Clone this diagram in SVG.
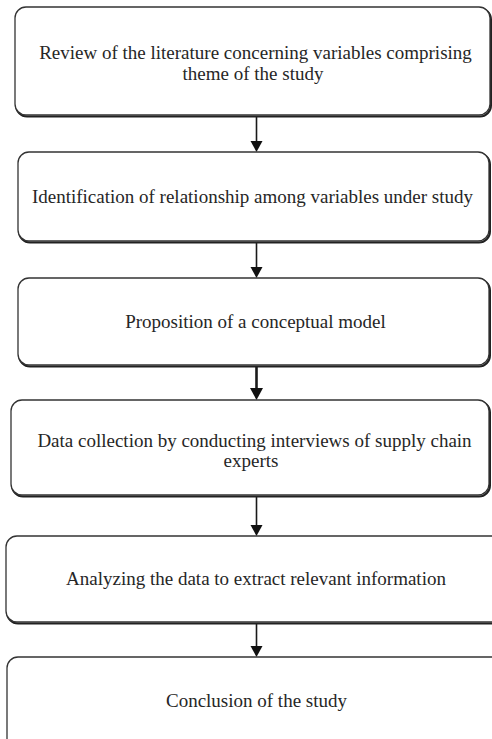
<svg xmlns="http://www.w3.org/2000/svg" width="492" height="739" viewBox="0 0 492 739">
<style>
.box{fill:#ffffff;stroke:#333333;stroke-width:1.3}
.shadow{fill:none;stroke:#222222;stroke-width:2}
.lbl{font-family:"Liberation Serif","Times New Roman",serif;font-size:19px;fill:#262626;text-anchor:middle}
.conn{stroke:#1a1a1a;stroke-width:1.6;fill:none}
.head{fill:#111111}
</style>
<rect width="492" height="739" fill="#ffffff"/>
<g id="connectors">
<line class="conn" x1="256.5" y1="116" x2="256.5" y2="145"/>
<line class="conn" x1="256.5" y1="243" x2="256.5" y2="271"/>
<line class="conn" x1="256.5" y1="367" x2="256.5" y2="393" style="stroke-width:2.6"/>
<line class="conn" x1="256.5" y1="497" x2="256.5" y2="529"/>
<line class="conn" x1="256.5" y1="624" x2="256.5" y2="650"/>
<path class="head" d="M250.5,141 L262.5,141 L256.5,152 Z"/>
<path class="head" d="M250.5,267 L262.5,267 L256.5,278 Z"/>
<path class="head" d="M250,388 L263,388 L256.5,400 Z"/>
<path class="head" d="M250.5,525 L262.5,525 L256.5,536 Z"/>
<path class="head" d="M250.5,646 L262.5,646 L256.5,657 Z"/>
</g>
<g id="node1">
<rect class="shadow" x="16" y="8.5" width="475" height="108" rx="11"/>
<rect class="box" x="15" y="7" width="475" height="108" rx="11"/>
<text class="lbl" x="255.5" y="58.5">Review of the literature concerning variables comprising</text>
<text class="lbl" x="253" y="79.5">theme of the study</text>
</g>
<g id="node2">
<rect class="shadow" x="19" y="153.5" width="471" height="89" rx="11"/>
<rect class="box" x="18" y="152" width="471" height="89" rx="11"/>
<text class="lbl" x="252.5" y="203">Identification of relationship among variables under study</text>
</g>
<g id="node3">
<rect class="shadow" x="19" y="279.5" width="471" height="87" rx="11"/>
<rect class="box" x="18" y="278" width="471" height="87" rx="11"/>
<text class="lbl" x="255.5" y="328">Proposition of a conceptual model</text>
</g>
<g id="node4">
<rect class="shadow" x="12" y="401.5" width="478" height="95" rx="11"/>
<rect class="box" x="11" y="400" width="478" height="95" rx="11"/>
<text class="lbl" x="254.5" y="447">Data collection by conducting interviews of supply chain</text>
<text class="lbl" x="251" y="467">experts</text>
</g>
<g id="node5">
<rect class="shadow" x="7" y="537.5" width="500" height="86" rx="11"/>
<rect class="box" x="6" y="536" width="500" height="86" rx="11"/>
<text class="lbl" x="256" y="585">Analyzing the data to extract relevant information</text>
</g>
<g id="node6">
<rect class="box" x="7" y="657" width="500" height="100" rx="11"/>
<text class="lbl" x="256.5" y="707">Conclusion of the study</text>
</g>
</svg>
